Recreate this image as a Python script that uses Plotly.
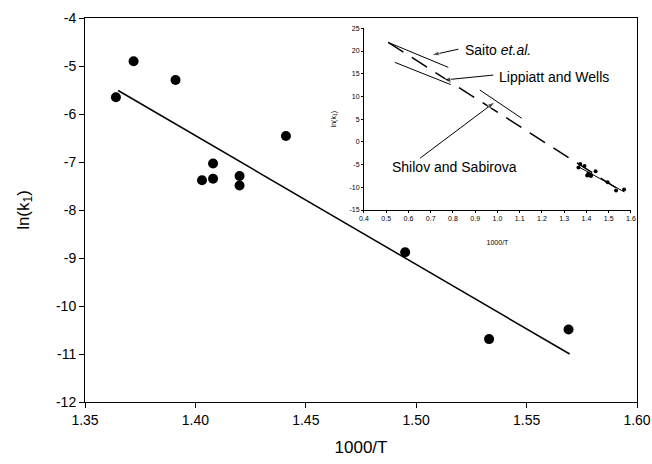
import plotly.graph_objects as go

# ---- main data ----
inv_T = [1.364, 1.372, 1.391, 1.403, 1.408, 1.408, 1.420, 1.420, 1.441, 1.495, 1.533, 1.569]
ln_k1 = [-5.65, -4.90, -5.29, -7.38, -7.03, -7.35, -7.29, -7.49, -6.46, -8.88, -10.69, -10.49]

fit_x = [1.365, 1.5695]
fit_y = [-5.51, -11.0]

x_ticks = [1.35, 1.40, 1.45, 1.50, 1.55, 1.60]
y_ticks = [-12, -11, -10, -9, -8, -7, -6, -5, -4]

# ---- inset data ----
extrap_x = [0.509, 1.57]
extrap_y = [21.9, -11.3]
saito_x = [0.509, 0.779]
saito_y = [21.9, 16.4]
lippiatt_x = [0.539, 0.79]
lippiatt_y = [17.5, 12.6]
shilov_x = [0.921, 1.109]
shilov_y = [11.4, 5.2]

inset_x_ticks = [0.4, 0.5, 0.6, 0.7, 0.8, 0.9, 1.0, 1.1, 1.2, 1.3, 1.4, 1.5, 1.6]
inset_y_ticks = [-15, -10, -5, 0, 5, 10, 15, 20, 25]

# arrow pointers in the inset (tail -> tip)
saito_arrow_x = [0.824, 0.704]
saito_arrow_y = [20.4, 19.1]
lippiatt_arrow_x = [0.981, 0.756]
lippiatt_arrow_y = [14.7, 13.6]
shilov_arrow_x = [0.652, 0.989]
shilov_arrow_y = [-3.6, 8.8]

FONT = "Liberation Sans, Arial, sans-serif"


def hy(v, fmt):
    return format(v, fmt).replace("\u2212", "-")


fig = go.Figure()

# main
fig.add_trace(go.Scatter(x=fit_x, y=fit_y, mode="lines",
                         line=dict(color="black", width=1.5), xaxis="x", yaxis="y"))
fig.add_trace(go.Scatter(x=inv_T, y=ln_k1, mode="markers",
                         marker=dict(color="black", size=10), xaxis="x", yaxis="y"))

# inset
fig.add_trace(go.Scatter(x=extrap_x, y=extrap_y, mode="lines",
                         line=dict(color="black", width=1.5, dash="18px,10px"),
                         xaxis="x2", yaxis="y2"))
for xs, ys in [(saito_x, saito_y), (lippiatt_x, lippiatt_y), (shilov_x, shilov_y), (fit_x, fit_y)]:
    fig.add_trace(go.Scatter(x=xs, y=ys, mode="lines",
                             line=dict(color="black", width=1), xaxis="x2", yaxis="y2"))
fig.add_trace(go.Scatter(x=inv_T, y=ln_k1, mode="markers",
                         marker=dict(color="black", size=4), xaxis="x2", yaxis="y2"))

# arrows
for xs, ys in [(saito_arrow_x, saito_arrow_y), (lippiatt_arrow_x, lippiatt_arrow_y),
               (shilov_arrow_x, shilov_arrow_y)]:
    fig.add_trace(go.Scatter(x=xs, y=ys, mode="lines+markers",
                             line=dict(color="black", width=1),
                             marker=dict(symbol="arrow", angleref="previous", size=[0, 8],
                                         color="black"),
                             xaxis="x2", yaxis="y2"))

axis_common = dict(showgrid=False, zeroline=False, showline=True, linecolor="black",
                   ticks="outside", tickcolor="black", automargin=False)

annotations = [
    dict(x=0.845, y=20.3, xref="x2", yref="y2", text="Saito <i>et.al.</i>", showarrow=False,
         xanchor="left", yanchor="middle", font=dict(size=14, color="black", family=FONT)),
    dict(x=0.996, y=14.3, xref="x2", yref="y2", text="Lippiatt and Wells", showarrow=False,
         xanchor="left", yanchor="middle", font=dict(size=14, color="black", family=FONT)),
    dict(x=0.809, y=-5.5, xref="x2", yref="y2", text="Shilov and Sabirova", showarrow=False,
         xanchor="center", yanchor="middle", font=dict(size=14, color="black", family=FONT)),
]

fig.update_layout(
    width=652, height=464,
    margin=dict(l=85, r=15, t=18, b=62),
    paper_bgcolor="white", plot_bgcolor="white",
    showlegend=False,
    font=dict(family=FONT, color="black"),
    xaxis=dict(**axis_common, range=[1.35, 1.60], tickvals=x_ticks,
               ticktext=[hy(v, ".2f") for v in x_ticks],
               ticklen=5, mirror=True, tickfont=dict(size=14), domain=[0, 1],
               title=dict(text="1000/T", font=dict(size=17), standoff=14)),
    yaxis=dict(**axis_common, range=[-12, -4], tickvals=y_ticks,
               ticktext=[hy(v, "d") for v in y_ticks], ticklen=5, mirror=True,
               tickfont=dict(size=14), domain=[0, 1],
               title=dict(text="ln(k<sub>1</sub>)", font=dict(size=17), standoff=22)),
    xaxis2=dict(**axis_common, range=[0.4, 1.6], tickvals=inset_x_ticks,
                ticktext=[hy(v, ".1f") for v in inset_x_ticks],
                ticklen=2, tickfont=dict(size=7), domain=[0.5054, 0.9891], anchor="y2",
                title=dict(text="1000/T", font=dict(size=7), standoff=18)),
    yaxis2=dict(**axis_common, range=[-15, 25], tickvals=inset_y_ticks,
                ticktext=[hy(v, "d") for v in inset_y_ticks], ticklen=2,
                tickfont=dict(size=7), domain=[0.5, 0.9732], anchor="x2",
                title=dict(text="ln(k<sub>1</sub>)", font=dict(size=7), standoff=12)),
    annotations=annotations,
)

fig.write_html("out.html")
